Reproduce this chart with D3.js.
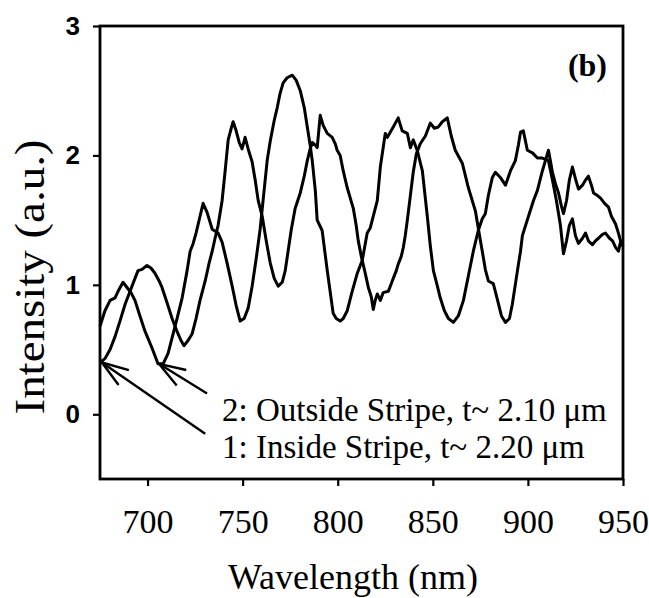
<!DOCTYPE html>
<html>
<head>
<meta charset="utf-8">
<script src="https://cdn.jsdelivr.net/npm/d3@7"></script>
<style>
  body { margin: 0; background: #fff; }
  svg { display: block; }
</style>
</head>
<body>
<svg id="chart" width="649" height="598"></svg>
<script>
// series 2: outside stripe
var waveOutside = [675, 677.6, 680.3, 682.9, 684.5, 687.1, 689.7, 691.3, 693.4, 696, 698.7, 702.4, 705.5, 708.2, 710.8,
    712.9, 715.5, 718.2, 720.8, 722.4, 724, 725.5, 727.6, 729.2, 731.3, 734, 737.1, 739.2, 741.8, 744.5, 746.6, 748.7,
    750.8, 752.9, 755, 757.1, 759.2, 761.3, 762.9, 764.5, 766.6, 768.2, 769.7, 771.3, 773.4, 776.1, 778.2, 780.3, 782.4,
    784, 785.5, 786.6, 788.2, 789.2, 791.8, 794.5, 797.6, 799.2, 801.3, 802.9, 805, 807.6, 810.3, 812.9, 815.5, 817.1,
    820.8, 822.4, 825, 826.1, 829.2, 831.8, 833.9, 836.6, 838.2, 839.7, 841.8, 844.5, 847.1, 848.7, 850.3, 852.4, 853.9,
    856.1, 858.2, 860.8, 863.4, 866.1, 868.7, 871.3, 873.9, 876, 877.6, 879.2, 881.3, 882.9, 885.5, 888.2, 890.8, 893.4,
    895, 896.1, 897.6, 899.7, 902.4, 905, 907.6, 910.8, 912.9, 915, 917.1, 918.7, 920.3, 921.8, 923.4, 925, 926.6, 928.7,
    930.3, 931.8, 933.9, 935.5, 937.1, 939.2, 940.8, 942.9, 944.5, 946.1, 947.6, 948.7, 950]
var intensityOutside = [0.68, 0.80, 0.88, 0.90, 0.95, 1.02, 0.97, 0.94, 0.88, 0.76, 0.64, 0.51, 0.39, 0.39, 0.47,
    0.59, 0.74, 0.90, 1.11, 1.26, 1.32, 1.40, 1.53, 1.63, 1.56, 1.43, 1.40, 1.33, 1.17, 0.99, 0.84, 0.72,
    0.74, 0.82, 0.99, 1.20, 1.43, 1.73, 1.96, 2.11, 2.27, 2.37, 2.48, 2.56, 2.60, 2.62, 2.58, 2.50, 2.37,
    2.22, 2.08, 1.96, 1.73, 1.50, 1.42, 1.11, 0.78, 0.74, 0.72, 0.74, 0.80, 0.95, 1.09, 1.19, 1.40, 1.44,
    1.65, 1.91, 2.17, 2.14, 2.22, 2.29, 2.19, 2.17, 2.06, 2.12, 2.04, 1.88, 1.53, 1.30, 1.11, 0.99, 0.90,
    0.80, 0.74, 0.71, 0.76, 0.88, 1.07, 1.26, 1.42, 1.51, 1.55, 1.69, 1.83, 1.87, 1.83, 1.77, 1.88, 1.96,
    2.08, 2.18, 2.19, 2.04, 2.02, 1.98, 1.98, 1.96, 1.81, 1.65, 1.46, 1.24, 1.34, 1.46, 1.51, 1.38, 1.32, 1.36,
    1.40, 1.34, 1.31, 1.34, 1.36, 1.39, 1.40, 1.36, 1.34, 1.29, 1.26, 1.33, 1.30]

// series 1: inside stripe
var waveInside = [675, 677.6, 680.3, 682.9, 685.5, 688.2, 690.8, 693.4, 695, 697.1, 699.7, 701.8, 703.9, 706.1, 707.6,
    710.3, 712.9, 715.5, 717.6, 719.2, 721.3, 723.4, 725.5, 727.6, 730.3, 732.4, 734, 735.5, 737.1, 739.2, 740.8,
    742.4, 744, 745, 746.6, 748.2, 749.7, 751.3, 752.9, 755, 756.6, 758.2, 760.3, 762.4, 764.5, 766.6, 768.7,
    770.8, 772.4, 773.9, 775.5, 777.6, 780.3, 782.4, 784, 785.5, 786.6, 788.2, 789.2, 790.8, 792.4, 794.5, 797.1,
    798.7, 799.7, 801.3, 802.9, 805, 806.6, 808.2, 809.7, 810.8, 812.4, 814, 816.1, 817.6, 818.7, 819.7, 820.8,
    822.4, 823.9, 826.6, 828.2, 829.2, 830.8, 831.8, 833.4, 834.5, 835.5, 836.6, 838.2, 839.7, 841.3, 843.4, 846.1,
    848.7, 850.8, 852.9, 855, 857.6, 859.7, 861.8, 865.5, 868.7, 872.4, 874, 876, 877.6, 879.2, 881.8, 883.9,
    886.1, 888.2, 890.3, 891.8, 894.5, 896.1, 897.1, 900.3, 902.9, 905, 907.6, 909.2, 910.8, 911.8, 912.9, 914.5,
    916.1, 917.6, 918.7, 920.3, 921.8, 923.4, 925, 926.6, 928.7, 930.3, 931.8, 933.4, 934.5, 936.6, 938.2, 940.3,
    942.4, 943.9, 946.1, 947.6, 948.7, 950]
var intensityInside = [0.40, 0.43, 0.50, 0.60, 0.72, 0.85, 0.95, 1.05, 1.11, 1.12, 1.15, 1.13, 1.09, 1.03, 0.98,
    0.86, 0.74, 0.64, 0.57, 0.53, 0.57, 0.62, 0.74, 0.88, 1.03, 1.17, 1.26, 1.36, 1.46, 1.65, 1.88,
    2.12, 2.21, 2.26, 2.19, 2.10, 2.05, 2.14, 2.05, 1.95, 1.81, 1.65, 1.53, 1.34, 1.17, 1.05, 0.99,
    1.02, 1.11, 1.26, 1.42, 1.59, 1.71, 1.84, 1.96, 2.05, 2.10, 2.08, 2.06, 2.31, 2.23, 2.17, 2.14,
    2.09, 2.04, 2.00, 1.88, 1.75, 1.67, 1.59, 1.46, 1.34, 1.22, 1.12, 0.98, 0.91, 0.81, 0.88, 0.93,
    0.88, 0.94, 0.95, 1.01, 1.05, 1.11, 1.16, 1.22, 1.29, 1.38, 1.50, 1.69, 1.87, 2.01, 2.09, 2.15,
    2.25, 2.21, 2.22, 2.26, 2.29, 2.15, 2.04, 1.94, 1.75, 1.57, 1.43, 1.26, 1.12, 1.03, 1.01, 0.89,
    0.76, 0.71, 0.74, 0.85, 1.11, 1.26, 1.38, 1.53, 1.65, 1.73, 1.88, 1.96, 2.04, 1.96, 1.87, 1.78,
    1.71, 1.61, 1.55, 1.65, 1.81, 1.91, 1.82, 1.74, 1.77, 1.81, 1.84, 1.77, 1.71, 1.69, 1.67, 1.63,
    1.60, 1.53, 1.47, 1.40, 1.34, 1.30]

var xTicks = [700, 750, 800, 850, 900, 950]
var yTicks = [0, 1, 2, 3]

// arrow annotations: [tip wavelength, tip intensity, tail wavelength, tail intensity]
var arrowOutside = [706, 0.39, 731.3, 0.16]
var arrowInside = [676, 0.40, 730.3, -0.15]
var legendLines = ["2: Outside Stripe, t~ 2.10 \u03bcm", "1: Inside Stripe, t~ 2.20 \u03bcm"]

var margin = {top: 26, right: 26, bottom: 119, left: 100}
var W = 649, H = 598
var svg = d3.select("#chart")

var x = d3.scaleLinear().domain([675, 950]).range([margin.left, W - margin.right])
var y = d3.scaleLinear().domain([-0.5, 3]).range([H - margin.bottom, margin.top])

var serif = "'Liberation Serif', 'Times New Roman', serif"

// curves
var line = d3.line()
    .x(function(d) { return x(d[0]) })
    .y(function(d) { return y(d[1]) })

var outside = d3.zip(waveOutside, intensityOutside)
var inside = d3.zip(waveInside, intensityInside)

svg.selectAll("path.curve")
    .data([outside, inside])
  .enter().append("path")
    .attr("class", "curve")
    .attr("d", line)
    .attr("fill", "none")
    .attr("stroke", "#000")
    .attr("stroke-width", 3)
    .attr("stroke-linejoin", "round")

// frame
svg.append("rect")
    .attr("x", x(675))
    .attr("y", y(3))
    .attr("width", x(950) - x(675))
    .attr("height", y(-0.5) - y(3))
    .attr("fill", "none")
    .attr("stroke", "#000")
    .attr("stroke-width", 2.8)

// axes
var xAxis = d3.axisBottom(x).tickValues(xTicks).tickSize(7).tickPadding(23).tickSizeOuter(0)
var gx = svg.append("g")
    .attr("transform", "translate(0," + y(-0.5) + ")")
    .call(xAxis)
gx.select(".domain").remove()
gx.selectAll("line").attr("stroke-width", 2.2)
gx.selectAll("text")
    .attr("font-family", serif)
    .attr("font-size", 34)
    .attr("fill", "#000")

var yAxis = d3.axisLeft(y).tickValues(yTicks).tickFormat(d3.format("d"))
    .tickSize(7).tickPadding(13).tickSizeOuter(0)
var gy = svg.append("g")
    .attr("transform", "translate(" + x(675) + ",0)")
    .call(yAxis)
gy.select(".domain").remove()
gy.selectAll("line").attr("stroke-width", 2.2)
gy.selectAll("text")
    .attr("font-family", "'Liberation Sans', Arial, sans-serif")
    .attr("font-weight", "bold")
    .attr("font-size", 26)
    .attr("fill", "#000")

// axis titles
svg.append("text")
    .attr("x", 353)
    .attr("y", 589)
    .attr("text-anchor", "middle")
    .attr("font-family", serif)
    .attr("font-size", 36)
    .text("Wavelength (nm)")

svg.append("text")
    .attr("transform", "translate(44,277) rotate(-90)")
    .attr("text-anchor", "middle")
    .attr("font-family", serif)
    .attr("font-size", 42)
    .attr("textLength", 275)
    .attr("lengthAdjust", "spacingAndGlyphs")
    .text("Intensity (a.u.)")

// panel label
svg.append("text")
    .attr("x", 607)
    .attr("y", 76)
    .attr("text-anchor", "end")
    .attr("font-family", serif)
    .attr("font-weight", "bold")
    .attr("font-size", 32)
    .text("(b)")

// legend text
svg.selectAll("text.legend")
    .data(legendLines)
  .enter().append("text")
    .attr("class", "legend")
    .attr("x", 222)
    .attr("y", function(d, i) { return 421 + i * 37 })
    .attr("font-family", serif)
    .attr("font-size", 33)
    .text(function(d) { return d })

// arrows
function drawArrow(a) {
    var tx = x(a[0]), ty = y(a[1]), ex = x(a[2]), ey = y(a[3])
    var ang = Math.atan2(ey - ty, ex - tx)
    var len = 28, spread = 0.33
    var g = svg.append("g")
        .attr("stroke", "#000")
        .attr("stroke-width", 2.4)
        .attr("fill", "none")
    g.append("line").attr("x1", tx).attr("y1", ty).attr("x2", ex).attr("y2", ey)
    ;[-spread, spread].forEach(function(s) {
        g.append("line")
            .attr("x1", tx).attr("y1", ty)
            .attr("x2", tx + len * Math.cos(ang + s))
            .attr("y2", ty + len * Math.sin(ang + s))
    })
}
drawArrow(arrowOutside)
drawArrow(arrowInside)
</script>
</body>
</html>
